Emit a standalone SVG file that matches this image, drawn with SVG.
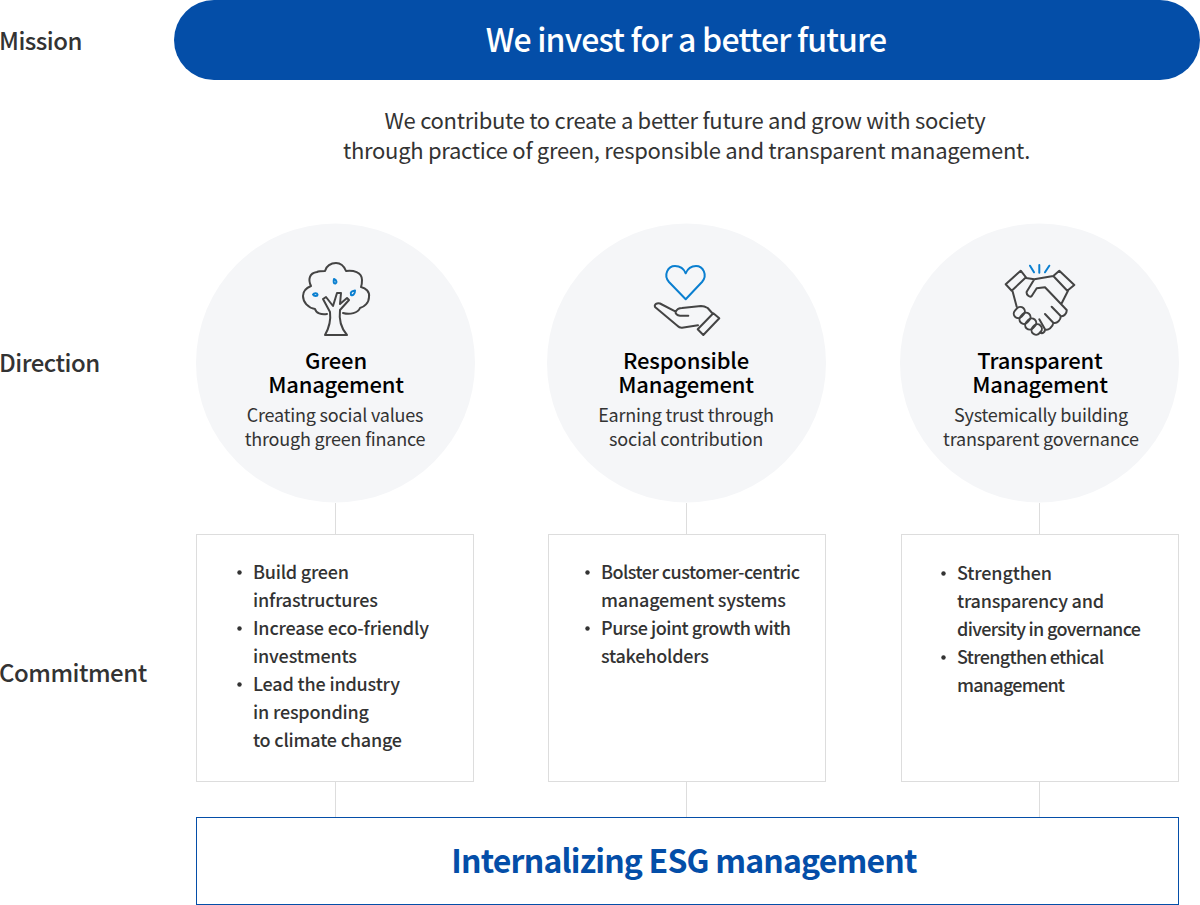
<svg xmlns="http://www.w3.org/2000/svg" width="1200" height="905" viewBox="0 0 1200 905">
<style>
text{font-family:"Noto Sans CJK KR","Noto Sans",sans-serif;fill:#333;}
.side{font-size:24px;font-weight:500;letter-spacing:-.5px}
.sub{font-size:22px;text-anchor:middle;letter-spacing:-.3px}
.h{font-size:22px;font-weight:500;fill:#000;text-anchor:middle;letter-spacing:-.2px}
.d{font-size:18px;text-anchor:middle;letter-spacing:-.2px}
.li{font-size:18px;font-weight:500}
.circle{fill:#f5f6f8}
.box{fill:#fff;stroke:#ddd;stroke-width:1}
.ln{stroke:#ddd;stroke-width:1;fill:none}
.ic{fill:none;stroke:#444;stroke-width:2;stroke-linejoin:round;stroke-linecap:round}
.ib{fill:none;stroke:#0a7fd0;stroke-width:2;stroke-linejoin:round;stroke-linecap:round}
.dot{fill:#333}
</style>
<rect width="1200" height="905" fill="#fff"/>
<g id="connectors">
<path class="ln" d="M335.500 503V534M686.500 503V534M1039.500 503V534M335.500 782V817M686.500 782V817M1039.500 782V817"/>
</g>
<g id="labels">
<text class="side" x="-1" y="50">Mission</text>
<text class="side" x="-1" y="372">Direction</text>
<text class="side" x="-1" y="682">Commitment</text>
</g>
<g id="mission">
<rect x="174" y="0" width="1026" height="80" rx="40" fill="#044ea8"/>
<text x="686" y="52" font-size="32" font-weight="500" text-anchor="middle" letter-spacing="-.8" style="fill:#fff">We invest for a better future</text>
</g>
<g id="mission-text">
<text class="sub" x="685" y="129">We contribute to create a better future and grow with society</text>
<text class="sub" x="686.500" y="159">through practice of green, responsible and transparent management.</text>
</g>
<g id="green">
<circle class="circle" cx="335.500" cy="363" r="139.500"/>
<path class="ic" d="M325 335C329 328 331 320 330 312L323 299L326 297L333 306L337 293L341 293L340 304L347 298L349 300L340 310C339 318 340 327 347 335Z"/>
<path class="ic" d="M327 314C321 315 316 313 315 309C308 308 303 302 303 296C303 291 306 288 311 286C308 280 309 273 317 272C319 271 322 271 325 271C326 266 331 263 336 263C341 263 344 266 346 271C353 270 362 272 362 280C362 282 362 285 361 287C366 288 370 292 369 297C369 303 364 307 360 308C358 313 350 315 343 313"/>
<path class="ib" d="M313 294.500C314 293 317 292.500 317.500 294.500C317.500 296.500 314 296.500 313 294.500ZM334 279C333 283 334 283.500 335.500 283.500C337 283 337 280 334 279ZM351 295C350 292 352 291 355 290.500C355 294 353 296 351 295Z"/>
<text class="h"><tspan x="336" y="369">Green</tspan><tspan x="336" y="393">Management</tspan></text>
<text class="d" x="335" y="422">Creating social values</text>
<text class="d" x="335" y="446">through green finance</text>
</g>
<g id="responsible">
<circle class="circle" cx="686.500" cy="363" r="139.500"/>
<path class="ib" d="M685.700 299.300L669 282C663 275 668 266 675 266C680 266 684 269 685.700 273.300C687.500 269 691 266 696 266C703 266 708 275 702 282Z"/>
<path class="ic" d="M688.300 315.700H680C677 315.500 675 313.500 675.700 311.700C677 309 679 308 682 308L701 306C704 306 706 307 707.700 308L713 314M675.700 311.700L660 303.500C657 302.500 654 304.500 655 307L677.700 326C679 327.500 680 327.800 682 327.700L698 325.300M713.300 313.300L719.300 318.300L703.300 335L697.700 329.300Z"/>
<text class="h"><tspan x="686" y="369">Responsible</tspan><tspan x="686" y="393">Management</tspan></text>
<text class="d" x="686" y="422">Earning trust through</text>
<text class="d" x="686" y="446">social contribution</text>
</g>
<g id="transparent">
<circle class="circle" cx="1039.500" cy="363" r="139.500"/>
<path class="ic" d="M1020.700 270.700L1026 277.300L1011.700 290.700L1005.700 284.300ZM1059.300 270.700L1074.300 285L1067.300 290.700L1053.300 276ZM1012.700 291.700L1016.700 306.700M1026 278L1034.300 279.300L1053.300 276M1068 290.700L1061.700 303.300M1034.300 279.300L1026.700 291.700C1026 295 1030 298 1031.700 296L1036.700 288.300L1045 287.300L1066.700 310C1067 313 1064 317 1060.700 316L1051.700 306.700M1060.700 316C1061 320 1057 324 1053.300 322.700L1045 314M1053.300 322.700C1053 327 1048 331 1045 329.300L1039.300 319.300M1045 329.300C1045 332 1043 334 1040 332.700"/>
<g class="ic">
<rect x="1013.300" y="308" width="12" height="9" rx="4.500" transform="rotate(-48 1019.300 312.500)"/>
<rect x="1019" y="313.800" width="12" height="9" rx="4.500" transform="rotate(-48 1025 318.300)"/>
<rect x="1024.700" y="319.500" width="12" height="9" rx="4.500" transform="rotate(-48 1030.700 324)"/>
<rect x="1031.200" y="325" width="11" height="9" rx="4.500" transform="rotate(-48 1036.700 329.500)"/>
</g>
<path class="ib" d="M1030 265.700L1034 272.300M1039.300 265V272.700M1049.300 265.700L1045 272.300"/>
<text class="h"><tspan x="1040" y="369">Transparent</tspan><tspan x="1040" y="393">Management</tspan></text>
<text class="d" x="1041" y="422">Systemically building</text>
<text class="d" x="1041" y="446">transparent governance</text>
</g>
<g id="commit-green">
<rect class="box" x="196.500" y="534.500" width="277" height="247"/>
<circle class="dot" cx="239.500" cy="572.500" r="2.200"/><circle class="dot" cx="239.500" cy="628.500" r="2.200"/><circle class="dot" cx="239.500" cy="684.500" r="2.200"/>
<text class="li" x="253" y="579" textLength="96">Build green</text>
<text class="li" x="253" y="607" textLength="125">infrastructures</text>
<text class="li" x="253" y="635" textLength="176">Increase eco-friendly</text>
<text class="li" x="253" y="663" textLength="104">investments</text>
<text class="li" x="253" y="691" textLength="147">Lead the industry</text>
<text class="li" x="253" y="719" textLength="116">in responding</text>
<text class="li" x="253" y="747" textLength="149">to climate change</text>
</g>
<g id="commit-responsible">
<rect class="box" x="548.500" y="534.500" width="277" height="247"/>
<circle class="dot" cx="587.500" cy="572.500" r="2.200"/><circle class="dot" cx="587.500" cy="628.500" r="2.200"/>
<text class="li" x="601" y="579" textLength="199">Bolster customer-centric</text>
<text class="li" x="601" y="607" textLength="185">management systems</text>
<text class="li" x="601" y="635" textLength="190">Purse joint growth with</text>
<text class="li" x="601" y="663" textLength="108">stakeholders</text>
</g>
<g id="commit-transparent">
<rect class="box" x="901.500" y="534.500" width="277" height="247"/>
<circle class="dot" cx="943.500" cy="573.500" r="2.200"/><circle class="dot" cx="943.500" cy="657.500" r="2.200"/>
<text class="li" x="957" y="580" textLength="95">Strengthen</text>
<text class="li" x="957" y="608" textLength="147">transparency and</text>
<text class="li" x="957" y="636" textLength="184">diversity in governance</text>
<text class="li" x="957" y="664" textLength="147">Strengthen ethical</text>
<text class="li" x="957" y="692" textLength="108">management</text>
</g>
<g id="esg">
<rect x="196.500" y="817.500" width="982" height="87" fill="#fff" stroke="#044ea8" stroke-width="1"/>
<text x="684" y="873" font-size="32" font-weight="700" text-anchor="middle" letter-spacing="-.82" style="fill:#044ea8">Internalizing ESG management</text>
</g>
</svg>
